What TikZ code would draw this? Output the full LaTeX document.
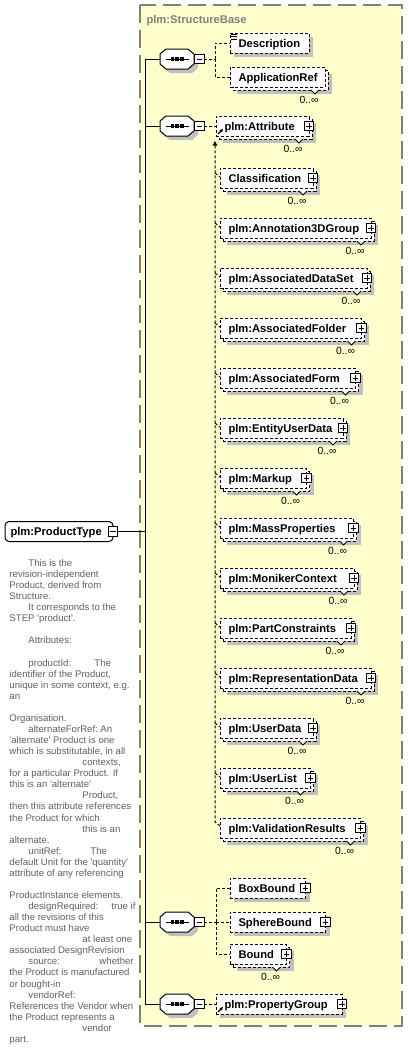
\documentclass[tikz,border=0pt]{standalone}
\usepackage{fontspec}
\setmainfont{Liberation Sans}[Ligatures=TeXOff]
\usetikzlibrary{arrows.meta}
\definecolor{bgc}{RGB}{255,255,206}
\definecolor{shd}{RGB}{192,192,192}
\definecolor{frm}{RGB}{128,128,128}
\definecolor{docc}{RGB}{96,96,96}
\newcommand\tb[2]{\makebox[#1][l]{#2}}
\newcommand\ind{\hspace*{14.25pt}}
\newcommand\indb{\hspace*{54.75pt}}
% single element box: name, x-left, y-centre, x-right, text
\newcommand\ElemS[5]{%
  \fill[shd] (#2+4,#3-6) rectangle (#4+4,#3+14);
  \node[ebox, minimum width={(#4-#2)*0.75pt}] (#1) at (#2,#3) {};
  \node[lbl] (#1-t) at (#2+8,#3+4) {#5};
}
% multiple element box (0..inf)
\newcommand\ElemM[5]{%
  \fill[shd] (#2+7,#3-3) rectangle (#4+7,#3+17);
  \node[ebox, minimum width={(#4-#2)*0.75pt}] (#1-b) at (#2+3,#3+3) {};
  \draw[notch] (#4-14,#3+13) -- (#4-10,#3+17) -- (#4-6,#3+13);
  \node[ebox, minimum width={(#4-#2)*0.75pt}] (#1) at (#2,#3) {};
  \node[lbl] (#1-t) at (#2+8,#3+4) {#5};
  \node[mult] (#1-n) at (#4-16,#3+26.7) {0..∞};
}
\newcommand\Plus[1]{\node[plusb] (#1-p) at (#1.east) {};}
\newcommand\RefArrow[1]{\draw[-{Triangle[length=2.5pt,width=2.5pt]}, solid, line width=0.9pt] ([xshift=1.5pt,yshift=-6pt]#1.west) -- ([xshift=5.25pt,yshift=-2.25pt]#1.west);}
% sequence compositor: name, y-centre
\newcommand\Seq[2]{%
  \fill[shd, shift={(4,4)}] (160,#2-5) -- (166,#2-10) -- (188,#2-10) -- (194,#2-5) -- (194,#2+5) -- (188,#2+10) -- (166,#2+10) -- (160,#2+5) -- cycle;
  \node[seqn] (#1) at (177,#2) {};
  \draw[fill=white] (160,#2-5) -- (166,#2-10) -- (188,#2-10) -- (194,#2-5) -- (194,#2+5) -- (188,#2+10) -- (166,#2+10) -- (160,#2+5) -- cycle;
  \draw (166,#2) -- (189,#2);
  \fill (170.5,#2-1.7) rectangle ++(3.4,3.4);
  \fill (175.3,#2-1.7) rectangle ++(3.4,3.4);
  \fill (180.1,#2-1.7) rectangle ++(3.4,3.4);
  \node[minusb] (#1-m) at (199.5,#2) {};
}
\begin{document}
\begin{tikzpicture}[x=0.75pt,y=-0.75pt, line width=0.75pt,
  dl/.style={dash pattern=on 2.25pt off 1.5pt},
  ebox/.style={draw, dl, fill=white, inner sep=0pt, outer sep=0pt, minimum height=15pt, anchor=west},
  lbl/.style={font=\fontsize{8.4}{10}\selectfont\bfseries, inner sep=0pt, anchor=base west},
  mult/.style={font=\fontsize{7.8}{9}\selectfont, inner sep=0pt, anchor=base},
  notch/.style={fill=white, solid},
  plusb/.style={draw, solid, fill=white, minimum size=7pt, inner sep=0pt, outer sep=0pt,
    path picture={\draw[solid, line width=0.75pt] ([xshift=1.4pt]path picture bounding box.west) -- ([xshift=-1.4pt]path picture bounding box.east) ([yshift=-1.4pt]path picture bounding box.north) -- ([yshift=1.4pt]path picture bounding box.south);}},
  minusb/.style={draw, solid, fill=white, minimum size=7pt, inner sep=0pt, outer sep=0pt,
    path picture={\draw[solid, line width=0.75pt] ([xshift=1.4pt]path picture bounding box.west) -- ([xshift=-1.4pt]path picture bounding box.east);}},
  seqn/.style={rectangle, minimum width=25.5pt, minimum height=15pt, inner sep=0pt, outer sep=0pt},
  doctext/.style={font=\fontsize{7.2}{8.3}\selectfont, text=docc, align=left, inner sep=0pt, anchor=north west},
]
\useasboundingbox (0,0) rectangle (408,1057);
\fill[white] (0,0) rectangle (408,1057);

% group container
\draw[frm, fill=bgc, line width=1.2pt, dash pattern=on 13.5pt off 5.25pt] (140,5) rectangle (402,1026);
\node[lbl, text=frm] (sbase) at (146,23) {plm:StructureBase};

% root element
\node[draw, rounded corners=3pt, fill=white, minimum width=81pt, minimum height=15pt, inner sep=0pt, outer sep=0pt, anchor=west] (pt) at (5,531.5) {};
\node[lbl] (pt-t) at (10,535.5) {plm:ProductType};
\node[minusb] (pt-m) at (pt.east) {};

% spine
\coordinate (sp1) at (145,59);
\coordinate (sp4) at (145,1004);
\draw (sp1) -- (sp4);
\draw (pt-m.east) -- (pt-m.east -| sp1);

% sequences
\Seq{s1}{59}
\Seq{s2}{126}
\Seq{s3}{922}
\Seq{s4}{1004}
\foreach \s in {s1,s2,s3,s4} \draw (\s.west -| sp1) -- (\s.west);

% sequence 1 children
\ElemS{desc}{230}{43}{309}{Description}
\draw[line width=0.6pt] (231,34) -- (237,34) (231,36.5) -- (237,36.5) (231,39) -- (237,39);
\ElemM{appref}{230}{77}{325}{ApplicationRef}

% sequence 2 child and substitution members
\ElemM{attr}{216}{126}{309}{plm:Attribute}
\Plus{attr}
\RefArrow{attr}
\ElemM{cls}{220}{178}{313}{Classification}\Plus{cls}
\ElemM{a3d}{220}{228}{371}{plm:Annotation3DGroup}\Plus{a3d}
\ElemM{ads}{220}{278}{367}{plm:AssociatedDataSet}\Plus{ads}
\ElemM{afo}{220}{328}{361.5}{plm:AssociatedFolder}\Plus{afo}
\ElemM{afm}{220}{378}{355.5}{plm:AssociatedForm}\Plus{afm}
\ElemM{eud}{220}{428}{343}{plm:EntityUserData}\Plus{eud}
\ElemM{mku}{220}{478}{306.5}{plm:Markup}\Plus{mku}
\ElemM{mas}{220}{528}{353.5}{plm:MassProperties}\Plus{mas}
\ElemM{mon}{220}{578}{354}{plm:MonikerContext}\Plus{mon}
\ElemM{pcn}{220}{628}{351}{plm:PartConstraints}\Plus{pcn}
\ElemM{rep}{220}{678}{371}{plm:RepresentationData}\Plus{rep}
\ElemM{usd}{220}{728}{313}{plm:UserData}\Plus{usd}
\ElemM{usl}{220}{778}{310.5}{plm:UserList}\Plus{usl}
\ElemM{vr}{220}{828}{360.5}{plm:ValidationResults}\Plus{vr}

% sequence 3 children
\ElemS{bbx}{230}{888}{305.5}{BoxBound}\Plus{bbx}
\ElemS{sbd}{230}{922}{325.5}{SphereBound}\Plus{sbd}
\ElemM{bnd}{230}{954}{286.5}{Bound}\Plus{bnd}

% sequence 4 child
\ElemS{pgr}{216}{1004}{342}{plm:PropertyGroup}\Plus{pgr}
\RefArrow{pgr}

% dashed connectors
\coordinate (j1) at (215,59);
\draw[dl] (s1-m.east) -- (j1);
\draw[dl] (j1) |- (desc.west);
\draw[dl] (j1) |- (appref.west);
\draw[dl] (s2-m.east) -- (attr.west);
\coordinate (ja) at (215,141);
\coordinate (jb) at (215,822);
\draw[dl, {Triangle[length=3.5pt,width=3.5pt]}-] (ja) -- (jb) -- ([yshift=1.5pt]vr.west);
\foreach \n in {cls,a3d,ads,afo,afm,eud,mku,mas,mon,pcn,rep,usd,usl}
  \draw[dl] ([xshift=-3.75pt,yshift=3.75pt]\n.west) -- ([yshift=0.75pt]\n.west);
\coordinate (j3) at (216,922);
\draw[dl] (s3-m.east) -- (j3);
\draw[dl] (j3) |- (bbx.west);
\draw[dl] (j3) -- (sbd.west);
\draw[dl] (j3) |- (bnd.west);
\draw[dl] (s4-m.east) -- (pgr.west);

% documentation
\node[doctext] (doc) at (9,558.25) {%
\strut\ind This is the\\
revision-independent\\
Product, derived from\\
Structure.\\
\ind It corresponds to the\\
STEP 'product'.\\
\mbox{}\\
\ind Attributes:\\
\mbox{}\\
\ind\tb{49.5pt}{productId:}The\\
identifier of the Product,\\
unique in some context, e.g.\\
an\\
\mbox{}\\
Organisation.\\
\ind\tb{54pt}{alternateForRef:}An\\
'alternate' Product is one\\
which is substitutable, in all\\
\indb contexts,\\
for a particular Product. If\\
this is an 'alternate'\\
\indb Product,\\
then this attribute references\\
the Product for which\\
\indb this is an\\
alternate.\\
\ind\tb{46.5pt}{unitRef:}The\\
default Unit for the 'quantity'\\
attribute of any referencing\\
\mbox{}\\
ProductInstance elements.\\
\ind\tb{62.25pt}{designRequired:}true if\\
all the revisions of this\\
Product must have\\
\indb at least one\\
associated DesignRevision\\
\ind\tb{53.25pt}{source:}whether\\
the Product is manufactured\\
or bought-in\\
\ind vendorRef:\\
References the Vendor when\\
the Product represents a\\
\indb vendor\\
part.};
\end{tikzpicture}
\end{document}
